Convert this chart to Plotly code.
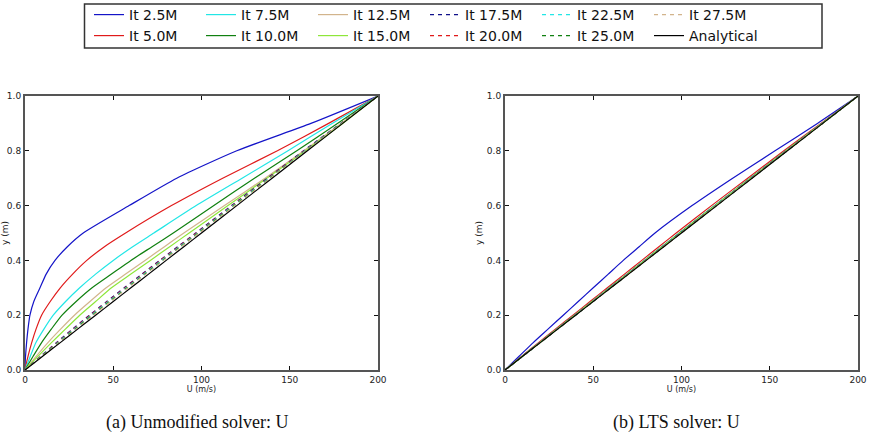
import plotly.graph_objects as go

# ---------------- data ----------------
y_levels = [0.0, 0.02, 0.05, 0.1, 0.15, 0.2, 0.25, 0.3, 0.35, 0.4, 0.45, 0.5,
            0.6, 0.7, 0.8, 0.9, 1.0]

labels = ["It 2.5M", "It 5.0M", "It 7.5M", "It 10.0M", "It 12.5M", "It 15.0M",
          "It 17.5M", "It 20.0M", "It 22.5M", "It 25.0M", "It 27.5M", "Analytical"]

# (a) Unmodified solver: U (m/s) at each y level
u_a_2_5 = [0, 0.08, 0.3, 0.9, 1.7, 2.8, 5, 8.5, 12, 17, 24, 33, 59, 86, 120, 162, 200]
u_a_5_0 = [0, 0.6, 1.7, 3.8, 6.3, 9.4, 14.3, 20, 27, 35, 45, 57, 83, 112, 143, 172, 200]
u_a_7_5 = [0, 1.2, 3.0, 6.2, 10.8, 16, 23, 31, 40, 50, 61, 73, 97, 123, 149, 174, 200]
u_a_10_0 = [0, 1.8, 4.6, 9.4, 15, 21, 29, 38, 49, 60, 72, 84, 107, 130, 154, 177, 200]
u_a_12_5 = [0, 2.5, 6.3, 13, 20.3, 28, 36.8, 46, 57, 68, 79, 90, 113, 136, 158, 179, 200]
u_a_15_0 = [0, 2.9, 7.3, 15, 23, 31, 40, 49, 60, 71, 82, 93, 115, 137, 159, 180, 200]
u_a_17_5 = [0, 3.5, 8.8, 17.8, 27, 36.5, 46.3, 56.2, 66.2, 76.3, 86.5, 96.7, 117, 137.3, 157.8, 178.8, 200]
u_a_20_0 = [0, 3.6, 9, 18.2, 27.5, 37, 46.8, 56.7, 66.7, 76.8, 87, 97.2, 117.5, 137.8, 158.2, 179, 200]
u_a_22_5 = [0, 3.7, 9.2, 18.6, 28, 37.6, 47.4, 57.3, 67.3, 77.4, 87.6, 97.8, 118, 138.3, 158.6, 179.2, 200]
u_a_25_0 = [0, 3.8, 9.4, 19, 28.5, 38.2, 48, 57.9, 67.9, 78, 88.1, 98.3, 118.5, 138.7, 159, 179.4, 200]
u_a_27_5 = [0, 3.85, 9.6, 19.3, 29, 38.7, 48.5, 58.4, 68.4, 78.4, 88.5, 98.7, 118.9, 139, 159.3, 179.6, 200]
u_analytical = [0, 4, 10, 20, 30, 40, 50, 60, 70, 80, 90, 100, 120, 140, 160, 180, 200]

# (b) LTS solver: U (m/s) at each y level
u_b_2_5 = [0, 3.2, 8, 16, 24.5, 33, 41.5, 50, 58.5, 67, 76, 85, 106, 129, 153, 177, 200]
u_b_5_0 = [0, 3.8, 9.5, 19, 28.7, 38.5, 48.2, 58, 67.7, 77.5, 87.2, 97, 117, 137.5, 158, 179, 200]
u_b_7_5 = [0, 3.9, 9.8, 19.6, 29.4, 39.3, 49.2, 59.1, 69, 78.9, 88.8, 98.7, 118.6, 138.8, 159.1, 179.5, 200]
u_b_10_0 = [0, 3.95, 9.85, 19.7, 29.6, 39.5, 49.4, 59.3, 69.2, 79.1, 89, 98.9, 118.8, 139, 159.3, 179.6, 200]
u_b_12_5 = [0, 3.95, 9.9, 19.8, 29.7, 39.6, 49.5, 59.5, 69.4, 79.3, 89.2, 99.2, 119, 139.2, 159.4, 179.7, 200]
u_b_15_0 = [0, 3.96, 9.9, 19.8, 29.75, 39.7, 49.6, 59.6, 69.5, 79.5, 89.4, 99.4, 119.3, 139.4, 159.5, 179.8, 200]
u_b_17_5 = [0, 3.98, 9.95, 19.9, 29.8, 39.8, 49.7, 59.7, 69.6, 79.6, 89.5, 99.5, 119.5, 139.5, 159.6, 179.8, 200]
u_b_20_0 = [0, 3.98, 9.95, 19.9, 29.85, 39.8, 49.8, 59.8, 69.7, 79.7, 89.6, 99.6, 119.6, 139.6, 159.7, 179.9, 200]
u_b_22_5 = [0, 4, 10, 19.95, 29.9, 39.9, 49.8, 59.8, 69.8, 79.8, 89.7, 99.7, 119.7, 139.7, 159.8, 179.9, 200]
u_b_25_0 = [0, 4, 10, 19.95, 29.9, 39.9, 49.85, 59.9, 69.85, 79.8, 89.8, 99.8, 119.8, 139.8, 159.8, 179.9, 200]
u_b_27_5 = [0, 4, 10, 20, 29.95, 39.95, 49.9, 59.9, 69.9, 79.9, 89.9, 99.9, 119.9, 139.9, 159.9, 180, 200]

series_a = [u_a_2_5, u_a_5_0, u_a_7_5, u_a_10_0, u_a_12_5, u_a_15_0,
            u_a_17_5, u_a_20_0, u_a_22_5, u_a_25_0, u_a_27_5, u_analytical]
series_b = [u_b_2_5, u_b_5_0, u_b_7_5, u_b_10_0, u_b_12_5, u_b_15_0,
            u_b_17_5, u_b_20_0, u_b_22_5, u_b_25_0, u_b_27_5, u_analytical]

x_ticks = [0, 50, 100, 150, 200]
y_ticks = [0.0, 0.2, 0.4, 0.6, 0.8, 1.0]

# ---------------- styles ----------------
colors = ["#1414c8", "#e01a1a", "#22e6e6", "#108010", "#d2b48c", "#8ee63a",
          "#10108a", "#e01a1a", "#22e6e6", "#108010", "#d2b48c", "#000000"]
dashes = ["solid"] * 6 + ["4px,4px"] * 5 + ["solid"]
legend_of = ["legend", "legend2", "legend", "legend2", "legend", "legend2",
             "legend", "legend2", "legend", "legend2", "legend", "legend2"]
rank_of = [1, 1, 2, 2, 3, 3, 4, 4, 5, 5, 6, 6]

FONT = "DejaVu Sans"
fig = go.Figure()

for i, lab in enumerate(labels):
    fig.add_trace(go.Scatter(
        x=series_a[i], y=y_levels, mode="lines", name=lab,
        line=dict(color=colors[i], width=1.2, dash=dashes[i], shape="spline", smoothing=0.6),
        xaxis="x", yaxis="y", legend=legend_of[i], legendrank=rank_of[i],
        showlegend=True))
for i, lab in enumerate(labels):
    fig.add_trace(go.Scatter(
        x=series_b[i], y=y_levels, mode="lines", name=lab,
        line=dict(color=colors[i], width=1.2, dash=dashes[i], shape="spline", smoothing=0.6),
        xaxis="x2", yaxis="y2", showlegend=False))

L, R, T, B = 25, 16, 96, 68
W, H = 874, 438
pw = W - L - R
ph = H - T - B

def px_x(p):
    return (p - L) / pw

def px_y(p):
    return (H - B - p) / ph

ax_common = dict(
    showline=True, linecolor="#555555", linewidth=2, mirror="ticks",
    ticks="inside", ticklen=4, tickwidth=1, tickcolor="#111111",
    showgrid=False, zeroline=False,
    tickfont=dict(family=FONT, size=9, color="#222222"),
)

xa = dict(ax_common, range=[0, 200], tickvals=x_ticks,
          title=dict(text="U (m/s)", font=dict(family=FONT, size=8, color="#222222"), standoff=2))
ya = dict(ax_common, range=[0, 1], tickvals=y_ticks, tickformat=".1f",
          title=dict(text="y (m)", font=dict(family=FONT, size=9, color="#222222"), standoff=3))

legend_common = dict(
    orientation="h", xanchor="left", yanchor="middle",
    entrywidth=67, entrywidthmode="pixels",
    font=dict(family=FONT, size=14, color="#111111"),
    bgcolor="rgba(0,0,0,0)", borderwidth=0, itemwidth=30,
    traceorder="normal",
)

fig.update_layout(
    width=W, height=H,
    margin=dict(l=L, r=R, t=T, b=B, autoexpand=False),
    paper_bgcolor="white", plot_bgcolor="white",
    font=dict(family=FONT),
    xaxis=dict(xa, domain=[0, px_x(378)], anchor="y"),
    yaxis=dict(ya, domain=[0, 1], anchor="x"),
    xaxis2=dict(xa, domain=[px_x(505), 1], anchor="y2"),
    yaxis2=dict(ya, domain=[0, 1], anchor="x2"),
    legend=dict(legend_common, x=px_x(89), y=px_y(15)),
    legend2=dict(legend_common, x=px_x(89), y=px_y(36)),
    shapes=[dict(type="rect", xref="paper", yref="paper",
                 x0=px_x(84.5), x1=px_x(822), y0=px_y(48), y1=px_y(4),
                 line=dict(color="#333333", width=1.5), fillcolor="rgba(0,0,0,0)")],
    annotations=[
        dict(text="(a) Unmodified solver: U", xref="paper", yref="paper",
             x=px_x(197), y=px_y(422), showarrow=False, xanchor="center", yanchor="middle",
             font=dict(family="Liberation Serif", size=18, color="#111111")),
        dict(text="(b) LTS solver: U", xref="paper", yref="paper",
             x=px_x(676), y=px_y(422), showarrow=False, xanchor="center", yanchor="middle",
             font=dict(family="Liberation Serif", size=18, color="#111111")),
    ],
)

fig.write_html("out.html")
